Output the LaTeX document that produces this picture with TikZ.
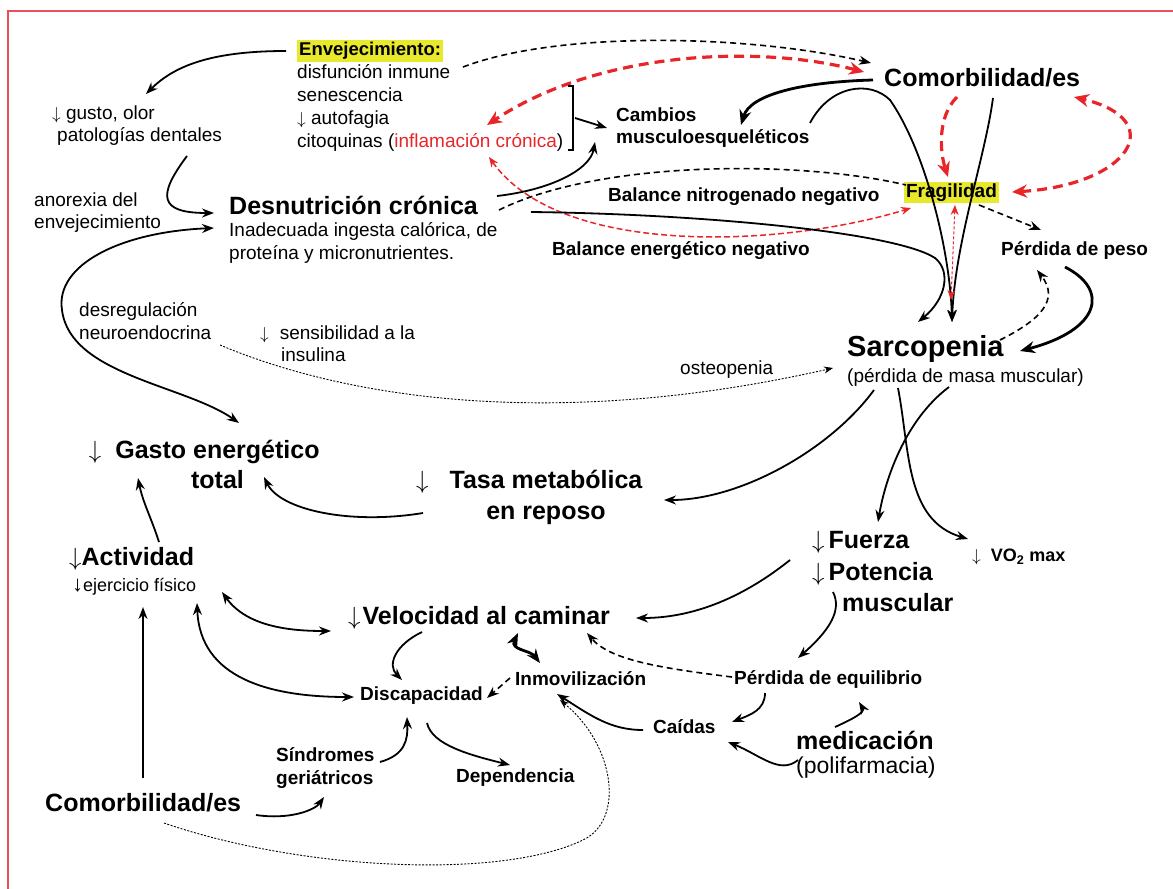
\documentclass[tikz,border=0pt]{standalone}
\usepackage{fontspec}
\setmainfont{Liberation Sans}
\usetikzlibrary{arrows.meta}
\definecolor{redc}{RGB}{232,38,42}
\definecolor{hiyellow}{RGB}{232,232,44}
\definecolor{framered}{RGB}{232,80,90}

\begin{document}
\begin{tikzpicture}[x=1pt, y=-1pt,
  every node/.style={inner sep=0pt, anchor=west},
  bigtxt/.style={font=\fontsize{25}{30}\selectfont\bfseries},
  midtxt/.style={font=\fontsize{19}{22}\selectfont\bfseries},
  plaintxt/.style={font=\fontsize{19}{23}\selectfont},
  hilite/.style={fill=hiyellow, inner sep=2pt},
  arrow/.style={-{Stealth[length=12pt,width=9pt]}, line width=1.8pt},
  heavy/.style={-{Stealth[length=15pt,width=12pt]}, line width=2.8pt},
  twoway/.style={{Stealth[length=12pt,width=9pt]}-{Stealth[length=12pt,width=9pt]}, line width=1.8pt},
  heavytwoway/.style={{Stealth[length=14pt,width=11pt]}-{Stealth[length=14pt,width=11pt]}, line width=2.8pt},
  dasharrow/.style={arrow, line width=1.6pt, dash pattern=on 6pt off 4pt},
  dotline/.style={-{Stealth[length=9pt,width=7pt]}, line width=0.9pt, dash pattern=on 2pt off 1.5pt},
  redbold/.style={draw=redc, line width=3.2pt, dash pattern=on 10pt off 6pt, -{Stealth[length=15pt,width=13pt]}},
  redboth/.style={redbold, {Stealth[length=15pt,width=13pt]}-{Stealth[length=15pt,width=13pt]}},
  redthin/.style={draw=redc, line width=1.5pt, dash pattern=on 6pt off 3pt, {Stealth[length=10pt,width=8pt]}-{Stealth[length=10pt,width=8pt]}}
]
\useasboundingbox (0,0) rectangle (1173,889);
\draw[framered, line width=1.5pt] (8,889) -- (8,11) -- (1173,11);

\node[hilite, font=\fontsize{18.5}{22}\selectfont\bfseries] (env) at (297,51) {Envejecimiento:};
\node[plaintxt, align=left] (envlist) at (297,108) {disfunción inmune\\senescencia\\$\downarrow$ autofagia\\citoquinas ({\color{redc}inflamación crónica})};
\node[font=\fontsize{19}{22}\selectfont, align=left] (gusto) at (52,126) {$\downarrow$ gusto, olor\\\hspace*{5pt}patologías dentales};
\node[font=\fontsize{19}{22}\selectfont, align=left] (anorexia) at (34,213) {anorexia del\\envejecimiento};
\node[bigtxt] (desn) at (229,205) {Desnutrición crónica};
\node[plaintxt, align=left] (desnsub) at (229,242.5) {Inadecuada ingesta calórica, de\\proteína y micronutrientes.};
\node[midtxt, align=left] (cambios) at (616,128) {Cambios\\musculoesqueléticos};
\node[bigtxt] (comorb) at (884,78) {Comorbilidad/es};
\node[midtxt] (balnit) at (608,197) {Balance nitrogenado negativo};
\node[midtxt, hilite, anchor=center] (frag) at (951.5,192.5) {Fragilidad};
\node[midtxt] (balener) at (552,251) {Balance energético negativo};
\node[midtxt] (peso) at (1001,251) {Pérdida de peso};
\node[plaintxt, align=left] (desreg) at (79,321.5) {desregulación\\neuroendocrina};
\node[font=\fontsize{19}{22}\selectfont, align=left] (insul) at (260,344) {$\downarrow$\hspace{11pt}sensibilidad a la\\\hspace*{21pt}insulina};
\node[plaintxt] (osteo) at (680,370) {osteopenia};
\node[font=\fontsize{29}{34}\selectfont\bfseries] (sarc) at (847,349) {Sarcopenia};
\node[plaintxt] (sarcsub) at (847,377) {(pérdida de masa muscular)};
\node[bigtxt, align=center, anchor=center] (gasto) at (217.5,464) {\llap{$\downarrow$\hspace{14pt}}Gasto energético\\total};
\node[font=\fontsize{25}{31}\selectfont\bfseries, align=center, anchor=center] (tasa) at (546,497.5) {\llap{$\downarrow$\hspace{21pt}}Tasa metabólica\\en reposo};
\node[bigtxt] (activ) at (69,559) {$\downarrow$Actividad};
\node[font=\fontsize{18}{22}\selectfont] (ejer) at (72,587) {{\fontsize{22}{22}\selectfont\bfseries ↓}ejercicio físico};
\node[font=\fontsize{25}{31.5}\selectfont\bfseries, align=left] (fuerza) at (812,571.5) {$\downarrow$\hspace{4pt}Fuerza\\$\downarrow$\hspace{4pt}Potencia\\\hspace*{30pt}muscular};
\node[font=\fontsize{18}{22}\selectfont\bfseries] (vo2) at (972,557) {$\downarrow$\hspace{10pt}VO\textsubscript{2} max};
\node[bigtxt] (veloc) at (348,618) {$\downarrow$\hspace{2pt}Velocidad al caminar};
\node[midtxt] (inmov) at (515,679) {Inmovilización};
\node[midtxt] (discap) at (360,696) {Discapacidad};
\node[midtxt] (equil) at (734,679) {Pérdida de equilibrio};
\node[midtxt] (caidas) at (653,727) {Caídas};
\node[bigtxt] (medic) at (796,740) {medicación};
\node[font=\fontsize{23}{27}\selectfont] (polif) at (796,768) {(polifarmacia)};
\node[midtxt, align=left, font=\fontsize{19}{23}\selectfont\bfseries] (sindr) at (276,768.5) {Síndromes\\geriátricos};
\node[midtxt] (depen) at (456,778) {Dependencia};
\node[bigtxt] (comorb2) at (45,803) {Comorbilidad/es};

\draw[arrow] ([xshift=-11pt]env.west) .. controls +(-70,0) and +(30,-30) .. ([shift={(94,-32)}]gusto.west);
\draw[arrow] ([shift={(135,30)}]gusto.west) .. controls +(-30,40) and +(-55,0) .. ([shift={(-15,8)}]desn.west);
\draw[twoway] ([shift={(-15,-14.5)}]desnsub.west) .. controls (120,232) and (55,265) .. (62,310) .. controls (70,375) and (185,385) .. ([shift={(21.5,-41)}]gasto.center);
\draw[dasharrow] ([shift={(166,16)}]env.west) .. controls +(97,-37) and +(-120,-28) .. ([shift={(-13,-15)}]comorb.west);
\draw[redboth] ([shift={(-20,-6)}]comorb.west) .. controls +(-104,-27) and +(113,-75) .. ([shift={(190,17)}]envlist.west);
\draw[redthin] ([shift={(192,49)}]envlist.west) .. controls +(71,100) and +(-131,40) .. ([shift={(-40.5,15.5)}]frag.center);
\draw[arrow] ([shift={(268,-9)}]desn.west) .. controls +(53,-6) and +(-5,28) .. ([shift={(-21,14)}]cambios.west);
\draw[line width=1.6pt, dash pattern=on 6pt off 4pt] ([shift={(270,5)}]desn.west) .. controls +(101,-50) and +(-106,-25) .. ([shift={(-45.5,-7.5)}]frag.center);
\draw[arrow] ([shift={(302,7)}]desn.west) .. controls (700,214) and (895,232) .. (935,258) .. controls (952,272) and (945,300) .. ([shift={(71,-27)}]sarc.west);
\draw[line width=1.6pt] ([shift={(271,-22)}]envlist.west) -- ++(5,0) -- ++(0,64) -- ++(-5,0);
\draw[arrow] ([shift={(278,10)}]envlist.west) -- ([xshift=-9pt]cambios.west);
\draw[heavy] ([shift={(-11,2)}]comorb.west) .. controls +(-73,2) and +(9,-30) .. ([shift={(125,-3)}]cambios.west);
\draw[arrow] ([shift={(194,-5)}]cambios.west) .. controls (830,85) and (870,80) .. (890,100) .. controls (925,150) and (950,250) .. ([shift={(105,-27)}]sarc.west);
\draw[arrow] ([shift={(109,20)}]comorb.west) .. controls +(-8,60) and +(3,-80) .. ([shift={(105,-27)}]sarc.west);
\draw[redbold] ([shift={(73,19)}]comorb.west) .. controls +(-20,20) and +(-8,-25) .. ([shift={(-3.5,-15.5)}]frag.center);
\draw[redboth] ([shift={(60.5,-0.5)}]frag.center) .. controls +(118,-7) and +(96,23) .. ([shift={(190,19)}]comorb.west);
\draw[redthin, line width=1pt, dash pattern=on 3pt off 2pt] ([shift={(3.5,12.5)}]frag.center) -- ([shift={(104,-49)}]sarc.west);
\draw[dasharrow] ([shift={(27.5,12.5)}]frag.center) -- ([shift={(40,-21)}]peso.west);
\draw[heavy] ([shift={(64,16)}]peso.west) .. controls +(45,23) and +(80,-21) .. ([shift={(173,2)}]sarc.west);
\draw[dasharrow] ([shift={(153,-9)}]sarc.west) .. controls +(40,-20) and +(23,30) .. ([shift={(36,19)}]peso.west);
\draw[dotline] ([shift={(141,23.5)}]desreg.west) .. controls +(130,55) and +(-273,62) .. ([shift={(-14,-9)}]sarcsub.west);
\draw[arrow] ([shift={(27,13)}]sarcsub.west) .. controls +(-44,60) and +(76,0) .. ([shift={(118,2.5)}]tasa.center);
\draw[arrow] ([shift={(102,10)}]sarcsub.west) .. controls +(-44,33) and +(7,-42) .. ([shift={(66,-49.5)}]fuerza.west);
\draw[arrow] ([shift={(51,11)}]sarcsub.west) .. controls +(12,62) and +(-63,-19) .. ([shift={(-4,-18)}]vo2.west);
\draw[arrow] ([shift={(-123,15.5)}]tasa.center) .. controls +(-73,12) and +(16,33) .. ([shift={(46.5,13)}]gasto.center);
\draw[arrow] ([shift={(90,-17)}]activ.west) .. controls +(-8,-25) and +(5,25) .. ([shift={(-79.5,14)}]gasto.center);
\draw[arrow] ([shift={(98,-25)}]comorb2.west) -- ([shift={(71,20)}]ejer.west);
\draw[twoway] ([shift={(150,5)}]ejer.west) .. controls +(25,35) and +(-40,0) .. ([shift={(-17,13)}]veloc.west);
\draw[twoway] ([shift={(125,16)}]ejer.west) .. controls +(3,75) and +(-85,0) .. ([shift={(-6,1)}]discap.west);
\draw[arrow] ([shift={(74,14)}]veloc.west) .. controls +(-27,13) and +(-15,-15) .. ([shift={(42,-16)}]discap.west);
\draw[heavytwoway] ([shift={(170,15)}]veloc.west) .. controls +(-8,17) and +(-10,-13) .. ([shift={(25,-16)}]inmov.west);
\draw[dasharrow] ([shift={(-5,-1)}]inmov.west) -- ([shift={(127,2)}]discap.west);
\draw[arrow] ([shift={(-22,-11.5)}]fuerza.west) .. controls +(-50,40) and +(54,0) .. ([xshift=288pt]veloc.west);
\draw[arrow] ([shift={(21,20.5)}]fuerza.west) .. controls +(9,18) and +(32,-28) .. ([shift={(64,-21)}]equil.west);
\draw[dasharrow] ([shift={(-2,-2)}]equil.west) .. controls +(-72,-9) and +(23,27) .. ([shift={(239,15)}]veloc.west);
\draw[arrow] ([shift={(31,14)}]equil.west) .. controls +(0,17) and +(18,-7) .. ([shift={(79,-5)}]caidas.west);
\draw[arrow] ([shift={(-10,3)}]caidas.west) .. controls +(-33,0) and +(33,21) .. ([shift={(42,15)}]inmov.west);
\draw[arrow] ([shift={(39,-13)}]medic.west) .. controls +(20,-9) and +(6,10) .. ([shift={(125,23)}]equil.west);
\draw[arrow] ([shift={(2,-8)}]polif.west) .. controls +(-18,15) and +(32,13) .. ([shift={(75,15)}]caidas.west);
\draw[arrow] ([shift={(211,12)}]comorb2.west) .. controls +(34,5) and +(-9,13) .. ([shift={(48,28.5)}]sindr.west);
\draw[arrow] ([shift={(104,-6.5)}]sindr.west) .. controls +(25,-7) and +(1,23) .. ([shift={(47,21)}]discap.west);
\draw[arrow] ([shift={(67,27)}]discap.west) .. controls +(5,22) and +(-40,-10) .. ([shift={(54,-13)}]depen.west);
\draw[dotline] ([shift={(119,20)}]comorb2.west) .. controls (300,870) and (500,880) .. (583,840) .. controls (625,820) and (615,745) .. ([shift={(45,21)}]inmov.west);
\end{tikzpicture}
\end{document}
